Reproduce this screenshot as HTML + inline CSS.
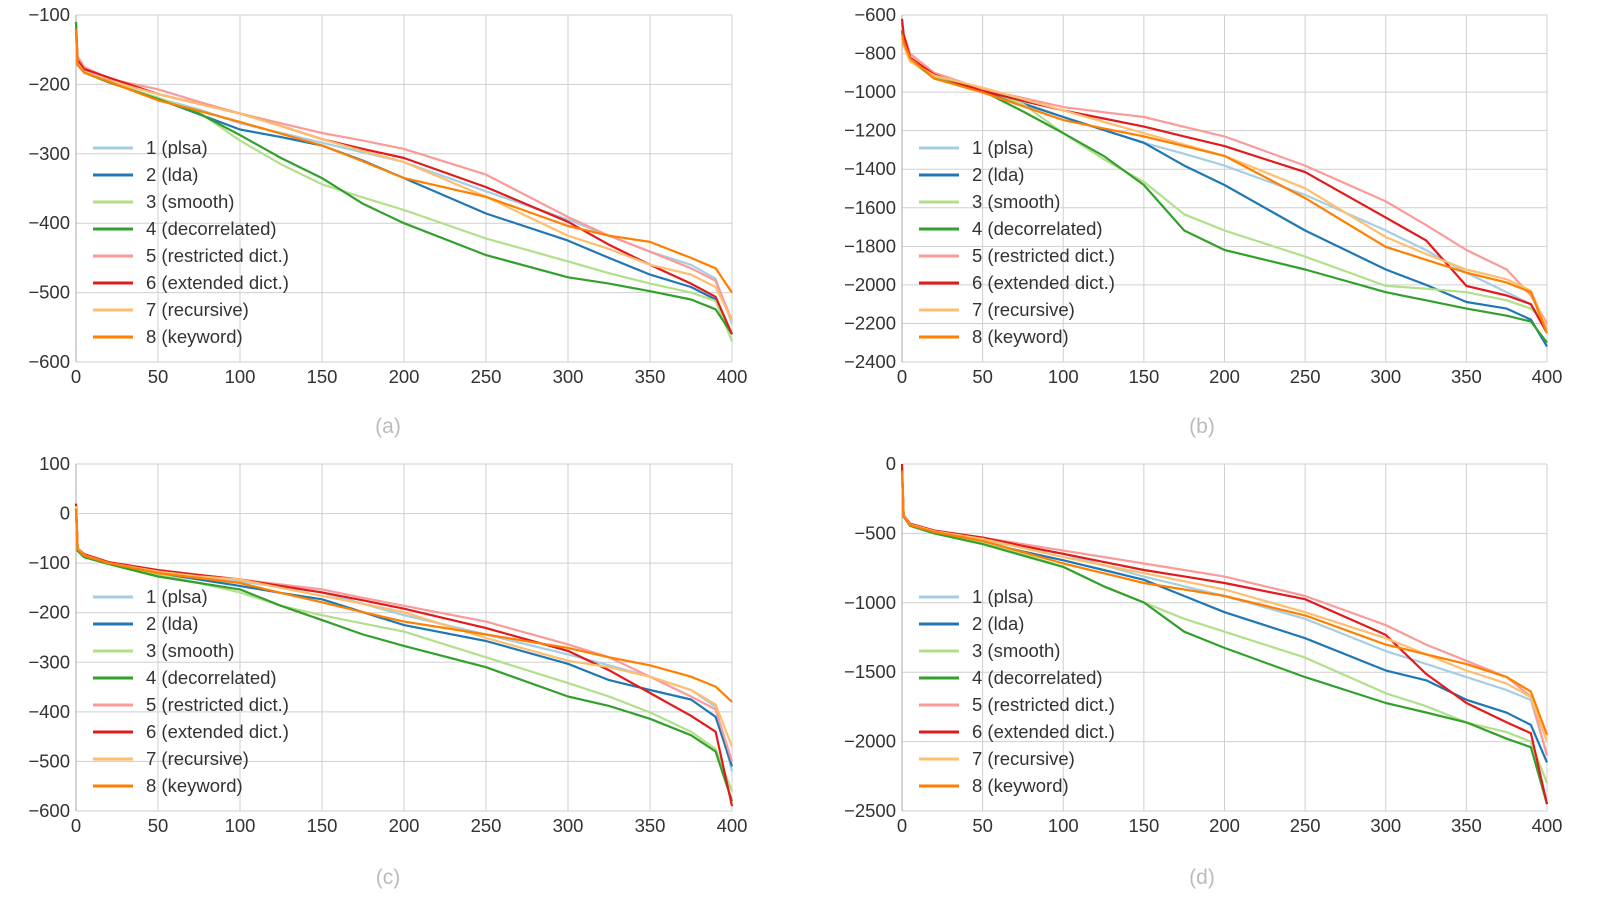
<!DOCTYPE html>
<html><head><meta charset="utf-8">
<style>
html,body{margin:0;padding:0;background:#fff;}
svg{display:block;font-family:"Liberation Sans",sans-serif;}
</style></head>
<body>
<svg id="chart" width="1602" height="923" viewBox="0 0 1602 923"></svg>
<script>
const xs = [0,1,5,20,50,75,100,125,150,175,200,250,300,325,350,375,390,400];
const seriesNames = ["1 (plsa)","2 (lda)","3 (smooth)","4 (decorrelated)","5 (restricted dict.)","6 (extended dict.)","7 (recursive)","8 (keyword)"];
const xTicks = [0,50,100,150,200,250,300,350,400];
const ticksA = [-100,-200,-300,-400,-500,-600];
const ticksB = [-600,-800,-1000,-1200,-1400,-1600,-1800,-2000,-2200,-2400];
const ticksC = [100,0,-100,-200,-300,-400,-500,-600];
const ticksD = [0,-500,-1000,-1500,-2000,-2500];
const panelA = [
[-110,-165,-180,-195,-220,-236,-256,-270,-284,-298,-312,-354,-395,-418,-441,-460,-480,-545],
[-120,-168,-182,-196,-221,-243,-265,-276,-288,-310,-335,-386,-425,-450,-474,-492,-510,-560],
[-110,-170,-183,-197,-219,-240,-281,-315,-344,-363,-381,-422,-455,-472,-487,-500,-512,-570],
[-110,-170,-183,-197,-221,-242,-273,-306,-335,-372,-400,-446,-478,-487,-498,-510,-524,-560],
[-120,-160,-175,-192,-207,-225,-242,-256,-270,-281,-293,-330,-391,-418,-441,-465,-483,-540],
[-120,-165,-178,-190,-214,-228,-242,-260,-279,-293,-306,-348,-398,-431,-460,-487,-506,-560],
[-130,-170,-182,-195,-214,-228,-242,-260,-279,-296,-312,-362,-418,-437,-460,-474,-492,-540],
[-120,-172,-183,-196,-223,-238,-254,-271,-288,-311,-335,-362,-404,-418,-427,-450,-465,-500]];
const panelB = [
[-650,-730,-830,-920,-985,-1055,-1129,-1196,-1263,-1320,-1381,-1533,-1718,-1820,-1937,-2038,-2100,-2230],
[-680,-740,-830,-920,-994,-1060,-1129,-1196,-1263,-1381,-1482,-1718,-1920,-2000,-2089,-2123,-2180,-2320],
[-700,-740,-840,-925,-985,-1061,-1213,-1348,-1466,-1634,-1718,-1853,-2005,-2020,-2038,-2080,-2123,-2200],
[-680,-730,-830,-930,-994,-1100,-1213,-1331,-1482,-1718,-1819,-1920,-2038,-2080,-2123,-2160,-2190,-2300],
[-640,-700,-800,-900,-985,-1030,-1078,-1104,-1129,-1180,-1230,-1381,-1567,-1690,-1819,-1920,-2055,-2200],
[-620,-700,-820,-910,-994,-1045,-1095,-1137,-1179,-1230,-1280,-1415,-1651,-1769,-2005,-2055,-2100,-2250],
[-720,-760,-840,-915,-977,-1036,-1095,-1154,-1213,-1272,-1331,-1499,-1752,-1840,-1920,-1971,-2030,-2220],
[-700,-741,-825,-930,-1002,-1073,-1145,-1188,-1230,-1280,-1331,-1550,-1803,-1870,-1937,-1988,-2038,-2250]];
const panelC = [
[20,-70,-85,-100,-117,-127,-137,-148,-159,-182,-205,-244,-284,-306,-329,-356,-390,-520],
[10,-70,-85,-100,-120,-133,-146,-160,-173,-199,-225,-257,-303,-336,-356,-375,-410,-510],
[10,-75,-88,-102,-123,-140,-159,-186,-205,-222,-238,-290,-342,-369,-401,-440,-475,-560],
[10,-75,-88,-102,-127,-140,-153,-186,-215,-244,-267,-310,-369,-388,-414,-447,-480,-580],
[20,-70,-82,-98,-114,-124,-133,-143,-153,-170,-186,-218,-264,-290,-329,-369,-395,-500],
[20,-70,-82,-98,-114,-124,-133,-146,-159,-175,-192,-231,-277,-316,-362,-408,-440,-590],
[15,-70,-84,-100,-117,-127,-133,-150,-166,-182,-199,-251,-297,-310,-329,-356,-385,-470],
[10,-72,-85,-100,-120,-130,-140,-160,-179,-199,-218,-244,-271,-290,-306,-329,-349,-380]];
const panelD = [
[-50,-380,-440,-490,-554,-600,-647,-729,-811,-881,-951,-1115,-1348,-1440,-1535,-1629,-1700,-2100],
[-50,-380,-440,-495,-565,-630,-694,-764,-834,-951,-1068,-1255,-1488,-1558,-1699,-1792,-1880,-2150],
[-50,-380,-440,-495,-565,-650,-741,-881,-998,-1115,-1208,-1395,-1652,-1745,-1862,-1932,-2000,-2300],
[-50,-380,-445,-500,-577,-660,-741,-881,-998,-1208,-1325,-1535,-1722,-1790,-1862,-1979,-2040,-2450],
[-50,-370,-430,-480,-530,-577,-624,-670,-717,-764,-811,-951,-1161,-1301,-1418,-1535,-1675,-2100],
[0,-370,-430,-480,-530,-590,-647,-705,-764,-810,-857,-974,-1231,-1512,-1722,-1862,-1940,-2450],
[-50,-375,-435,-485,-540,-605,-671,-729,-787,-845,-904,-1068,-1255,-1371,-1488,-1582,-1680,-2000],
[-50,-380,-440,-490,-554,-635,-717,-787,-857,-904,-951,-1091,-1301,-1371,-1442,-1535,-1640,-1950]];

const colors = ["#a6cee3","#1f78b4","#b2df8a","#33a02c","#fb9a99","#e31a1c","#fdbf6f","#ff7f00"];
const NS = "http://www.w3.org/2000/svg";
const svg = document.getElementById("chart");
function mk(tag, attrs, parent){
  const e = document.createElementNS(NS, tag);
  for (const k in attrs) e.setAttribute(k, attrs[k]);
  parent.appendChild(e);
  return e;
}
const panels = [
 {id:"a", data:panelA, ticks:ticksA, x0:76, x1:732, y0:15, y1:362, cap:"(a)", capX:388, capY:433},
 {id:"b", data:panelB, ticks:ticksB, x0:902, x1:1547, y0:15, y1:362, cap:"(b)", capX:1202, capY:433},
 {id:"c", data:panelC, ticks:ticksC, x0:76, x1:732, y0:464, y1:811, cap:"(c)", capX:388, capY:884},
 {id:"d", data:panelD, ticks:ticksD, x0:902, x1:1547, y0:464, y1:811, cap:"(d)", capX:1202, capY:884}
];
panels.forEach(p=>{
  const g = mk("g",{},svg);
  
  
  const ymax = p.ticks[0], ymin = p.ticks[p.ticks.length-1];
  const X = v => p.x0 + (v - 0)/(400-0)*(p.x1-p.x0);
  const Y = v => p.y0 + (ymax - v)/(ymax - ymin)*(p.y1-p.y0);
  xTicks.forEach(t=>{
    const l = mk("line",{x1:X(t),x2:X(t),y1:p.y0,y2:p.y1,stroke:"#cfcfcf","stroke-width":1},g);
    
    
    const tx = mk("text",{x:X(t),y:p.y1+21,"text-anchor":"middle","font-size":18.5,fill:"#333"},g);
    tx.textContent = t;
    
    
  });
  p.ticks.forEach(t=>{
    const l = mk("line",{x1:p.x0,x2:p.x1,y1:Y(t),y2:Y(t),stroke:"#cfcfcf","stroke-width":1},g);
    
    
    const tx = mk("text",{x:p.x0-6,y:Y(t)+6,"text-anchor":"end","font-size":18.5,fill:"#333"},g);
    tx.textContent = String(t).replace("-","\u2212");
    
    
  });
  const ax = mk("line",{x1:p.x0,x2:p.x0,y1:p.y0,y2:p.y1,stroke:"#aaa","stroke-width":1},g);
  
  
  p.data.forEach((vals,i)=>{
    const d = vals.map((v,j)=>(j?"L":"M")+X(xs[j]).toFixed(1)+","+Y(v).toFixed(1)).join(" ");
    const path = mk("path",{d:d,fill:"none",stroke:colors[i],"stroke-width":2.2,"stroke-linejoin":"round"},g);
    
    
  });
  const lx = p.x0 + 17, ly = p.y0 + 133;
  seriesNames.forEach((n,i)=>{
    const yy = ly + i*27;
    const ll = mk("line",{x1:lx,x2:lx+40,y1:yy,y2:yy,stroke:colors[i],"stroke-width":3},g);
    
    
    const lt = mk("text",{x:lx+53,y:yy+6,"font-size":18.5,fill:"#333"},g);
    lt.textContent = n;
    
    
  });
  const cap = mk("text",{x:p.capX,y:p.capY,"text-anchor":"middle","font-size":21,fill:"#bbb"},g);
  cap.textContent = p.cap;
  
  
});
</script>
</body></html>
